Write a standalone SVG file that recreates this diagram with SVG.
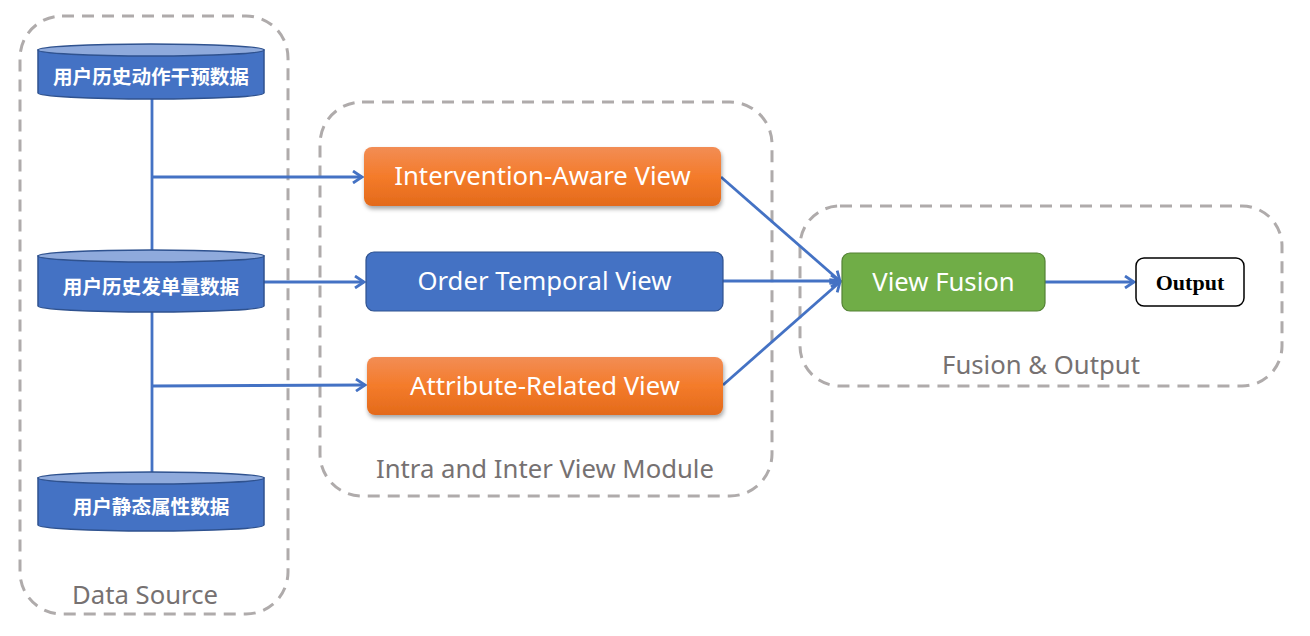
<svg xmlns="http://www.w3.org/2000/svg" width="1310" height="636" viewBox="0 0 1310 636">
<style>
.grp{fill:none;stroke:#AFABAB;stroke-width:3;stroke-dasharray:12 8}
.glabel{font-family:"Noto Sans","Open Sans",sans-serif;font-size:25.7px;fill:#767171;text-anchor:middle}
.cyl{fill:#4472C4;stroke:#2F528F;stroke-width:1.5}
.cyltop{fill:#8FAADC;stroke:#2F528F;stroke-width:1.5}
.cn{font-family:"Noto Sans CJK SC","Noto Sans",sans-serif;font-size:19.6px;font-weight:bold;fill:#fff;text-anchor:middle}
.box{font-family:"Noto Sans","Open Sans",sans-serif;font-size:25.7px;fill:#fff;text-anchor:middle}
.conn{stroke:#4472C4;stroke-width:2.8;fill:none}
</style>
<defs>
<linearGradient id="og" x1="0" y1="0" x2="0" y2="1">
<stop offset="0" stop-color="#F28D55"/>
<stop offset="0.5" stop-color="#F47B2A"/>
<stop offset="1" stop-color="#E36A1B"/>
</linearGradient>
<filter id="sh" x="-10%" y="-20%" width="120%" height="150%">
<feDropShadow dx="1" dy="3" stdDeviation="2" flood-color="#000" flood-opacity="0.35"/>
</filter>
<marker id="ah" markerWidth="14" markerHeight="14" refX="11" refY="7" orient="auto" markerUnits="userSpaceOnUse">
<path d="M2,1 L11,7 L2,13" fill="none" stroke="#4472C4" stroke-width="2.8"/>
</marker>
</defs>

<g id="group-data-source">
<rect class="grp" x="20" y="16" width="268" height="598" rx="42"/>
<text class="glabel" x="145" y="604">Data Source</text>
</g>
<g id="group-view-module">
<rect class="grp" x="320" y="102" width="452" height="394" rx="42"/>
<text class="glabel" x="545" y="478">Intra and Inter View Module</text>
</g>
<g id="group-fusion">
<rect class="grp" x="800" y="206" width="482" height="180" rx="40"/>
<text class="glabel" x="1041" y="374">Fusion &amp; Output</text>
</g>

<g id="connectors">
<line class="conn" x1="152" y1="98" x2="152" y2="252"/>
<line class="conn" x1="152" y1="312" x2="152" y2="474"/>
<line class="conn" x1="152" y1="177" x2="362" y2="177" marker-end="url(#ah)"/>
<line class="conn" x1="264" y1="282" x2="364" y2="282" marker-end="url(#ah)"/>
<line class="conn" x1="152" y1="386" x2="365" y2="385" marker-end="url(#ah)"/>
<line class="conn" x1="721" y1="177" x2="840" y2="281" marker-end="url(#ah)"/>
<line class="conn" x1="723" y1="281" x2="840" y2="281" marker-end="url(#ah)"/>
<line class="conn" x1="723" y1="385" x2="840" y2="282" marker-end="url(#ah)"/>
<line class="conn" x1="1045" y1="282" x2="1134" y2="282" marker-end="url(#ah)"/>
</g>

<g id="db-action">
<path class="cyl" d="M38,50 L38,93 A113,6 0 0 0 264,93 L264,50 Z"/>
<ellipse class="cyltop" cx="151" cy="50" rx="113" ry="6"/>
<text class="cn" x="151" y="84">用户历史动作干预数据</text>
</g>
<g id="db-order">
<path class="cyl" d="M38,256 L38,306 A113,6 0 0 0 264,306 L264,256 Z"/>
<ellipse class="cyltop" cx="151" cy="256" rx="113" ry="6"/>
<text class="cn" x="151" y="294">用户历史发单量数据</text>
</g>
<g id="db-static">
<path class="cyl" d="M38,478 L38,525 A113,6 0 0 0 264,525 L264,478 Z"/>
<ellipse class="cyltop" cx="151" cy="478" rx="113" ry="6"/>
<text class="cn" x="151" y="514">用户静态属性数据</text>
</g>

<g id="node-intervention">
<rect x="364" y="147" width="357" height="59" rx="8" fill="url(#og)" filter="url(#sh)"/>
<text class="box" x="542.5" y="185">Intervention-Aware View</text>
</g>
<g id="node-order">
<rect x="366" y="252" width="357" height="59" rx="8" fill="#4472C4" stroke="#2F528F" stroke-width="1.2"/>
<text class="box" x="544.5" y="290">Order Temporal View</text>
</g>
<g id="node-attribute">
<rect x="367" y="357" width="356" height="58" rx="8" fill="url(#og)" filter="url(#sh)"/>
<text class="box" x="545" y="395">Attribute-Related View</text>
</g>
<g id="node-fusion">
<rect x="842" y="253" width="203" height="58" rx="8" fill="#70AD47" stroke="#548235" stroke-width="1.2"/>
<text class="box" x="943.5" y="291">View Fusion</text>
</g>
<g id="node-output">
<rect x="1136" y="258" width="108" height="48" rx="8" fill="#fff" stroke="#000" stroke-width="1.5"/>
<text x="1190" y="289.5" font-family="'Liberation Serif',serif" font-size="22" font-weight="bold" fill="#000" text-anchor="middle">Output</text>
</g>
</svg>
